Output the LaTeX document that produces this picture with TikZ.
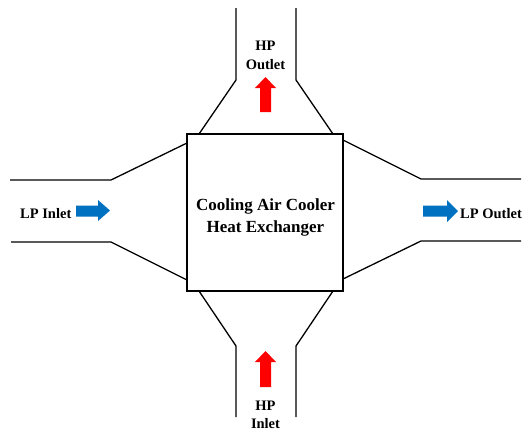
\documentclass[tikz,border=0pt]{standalone}
\usepackage{fontspec}
\setmainfont{Liberation Serif}
\begin{document}
\begin{tikzpicture}[x=1pt,y=-1pt,
  duct/.style={line width=1.3pt,line cap=butt},
  lbl/.style={font=\fontsize{14.5}{17}\selectfont\bfseries,inner sep=0pt,anchor=base},
  blueArrow/.style={fill={rgb,255:red,0;green,112;blue,192},draw=none},
  redArrow/.style={fill={rgb,255:red,255;green,0;blue,0},draw=none}]
\useasboundingbox (0,0) rectangle (528,432);
% box
\node[draw,line width=1.5pt,minimum width=156pt,minimum height=157pt,inner sep=0pt] (hx) at (265,212.5) {};
\node[font=\fontsize{17}{22}\selectfont\bfseries,inner sep=0pt,anchor=base] (t1) at (265.5,210) {Cooling Air Cooler};
\node[font=\fontsize{17}{22}\selectfont\bfseries,inner sep=0pt,anchor=base] (t2) at (265.5,232) {Heat Exchanger};
% top duct
\coordinate (tl1) at (236,8); \coordinate (tl2) at (236,80); \coordinate (tl3) at (199,134);
\coordinate (tr1) at (296,8); \coordinate (tr2) at (296,80); \coordinate (tr3) at (333,134);
\draw[duct] (tl1) -- (tl2) -- (tl3);
\draw[duct] (tr1) -- (tr2) -- (tr3);
% bottom duct
\coordinate (bl1) at (236,417); \coordinate (bl2) at (236,346); \coordinate (bl3) at (199,291);
\coordinate (br1) at (296,417); \coordinate (br2) at (296,346); \coordinate (br3) at (333,291);
\draw[duct] (bl1) -- (bl2) -- (bl3);
\draw[duct] (br1) -- (br2) -- (br3);
% left duct
\coordinate (lu1) at (10,180); \coordinate (lu2) at (111,180); \coordinate (lu3) at (187,143);
\coordinate (ld1) at (11,242); \coordinate (ld2) at (111,242); \coordinate (ld3) at (187,280);
\draw[duct] (lu1) -- (lu2) -- (lu3);
\draw[duct] (ld1) -- (ld2) -- (ld3);
% right duct
\coordinate (ru1) at (521,179); \coordinate (ru2) at (421,179); \coordinate (ru3) at (343,140);
\coordinate (rd1) at (521,241); \coordinate (rd2) at (421,241); \coordinate (rd3) at (343,279);
\draw[duct] (ru1) -- (ru2) -- (ru3);
\draw[duct] (rd1) -- (rd2) -- (rd3);
% labels
\node[lbl] (hpo1) at (265.5,50) {HP};
\node[lbl] (hpo2) at (265.5,69) {Outlet};
\node[lbl] (hpi1) at (265.5,410) {HP};
\node[lbl] (hpi2) at (265.5,428.5) {Inlet};
\node[lbl,anchor=base west] (lpi) at (20,218) {LP Inlet};
\node[lbl,anchor=base west] (lpo) at (460,218) {LP Outlet};
% arrows
\fill[blueArrow] (76,205.5) -- (98,205.5) -- (98,200) -- (110,210.5) -- (98,221) -- (98,216.5) -- (76,216.5) -- cycle;
\fill[blueArrow] (423,205.5) -- (447,205.5) -- (447,200) -- (458,211) -- (447,222) -- (447,216.5) -- (423,216.5) -- cycle;
\fill[redArrow] (260,112) -- (260,88) -- (255,88) -- (265.5,77) -- (276,88) -- (271,88) -- (271,112) -- cycle;
\fill[redArrow] (260,387) -- (260,362) -- (255,362) -- (265.5,351) -- (276,362) -- (271,362) -- (271,387) -- cycle;
\end{tikzpicture}
\end{document}
